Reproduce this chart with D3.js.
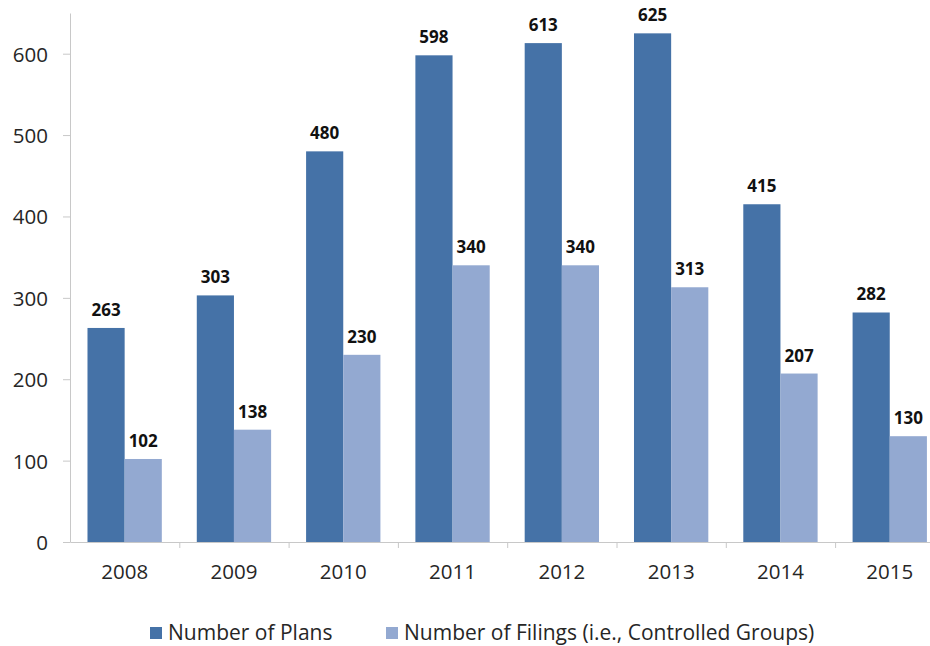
<!DOCTYPE html>
<html>
<head>
<meta charset="utf-8">
<script src="https://cdn.jsdelivr.net/npm/d3@7"></script>
<style>
  html, body { margin: 0; padding: 0; background: #fff; }
  svg { display: block; font-family: "Open Sans", "DejaVu Sans", sans-serif; }
  .axis .domain, .axis line { stroke: #c8c8c8; }
  .axis text { fill: #262626; font-size: 20.5px; font-family: "Open Sans", sans-serif; }
</style>
</head>
<body>
<svg id="chart" width="930" height="646"></svg>
<script>
// chart values
const years   = ['2008', '2009', '2010', '2011', '2012', '2013', '2014', '2015'];
const plans   = [263, 303, 480, 598, 613, 625, 415, 282];
const filings = [102, 138, 230, 340, 340, 313, 207, 130];
const seriesNames = ['Number of Plans', 'Number of Filings (i.e., Controlled Groups)'];
const yTicks  = [0, 100, 200, 300, 400, 500, 600];

const COLORS = ['#4572a7', '#93a9d1'];
const M = { left: 70, top: 13, bottom: 542 };
const STEP = 109.3;

const svg = d3.select('#chart');

const x0 = d3.scaleBand()
    .domain(years)
    .range([M.left, M.left + STEP * years.length])
    .paddingInner(0.32).paddingOuter(0.16);

const x1 = d3.scaleBand()
    .domain([0, 1])
    .range([0, x0.bandwidth()]);

const y = d3.scaleLinear().domain([0, 650]).range([M.bottom, M.top]);

// category boundaries for the x ticks
const xEdge = d3.scaleLinear().domain([0, years.length])
    .range([M.left, M.left + STEP * years.length]);

// y axis
svg.append('g').attr('class', 'axis')
    .attr('transform', `translate(${M.left},0)`)
    .call(d3.axisLeft(y).tickValues(yTicks).tickSize(7).tickPadding(15).tickSizeOuter(0))
    .call(g => g.selectAll('text').attr('dy', '0.36em'));

// x axis: ticks between categories
svg.append('g').attr('class', 'axis')
    .attr('transform', `translate(0,${M.bottom})`)
    .call(d3.axisBottom(xEdge).tickValues(d3.range(1, years.length + 1)).tickSize(6).tickFormat('').tickSizeOuter(0));

// x labels
svg.append('g').attr('class', 'axis')
    .attr('transform', `translate(0,${M.bottom})`)
    .call(d3.axisBottom(x0).tickSize(0).tickPadding(22))
    .call(g => g.select('.domain').remove());

const rows = years.map((yr, i) => ({ yr, vals: [plans[i], filings[i]] }));

const groups = svg.append('g').selectAll('g')
    .data(rows).join('g')
    .attr('transform', d => `translate(${x0(d.yr)},0)`);

groups.selectAll('rect')
    .data(d => d.vals.map((v, k) => ({ v, k })))
    .join('rect')
    .attr('x', d => x1(d.k))
    .attr('width', x1.bandwidth())
    .attr('y', d => y(d.v))
    .attr('height', d => y(0) - y(d.v))
    .attr('fill', d => COLORS[d.k]);

groups.selectAll('text')
    .data(d => d.vals.map((v, k) => ({ v, k })))
    .join('text')
    .attr('x', d => x1(d.k) + x1.bandwidth() / 2)
    .attr('y', d => y(d.v) - 12)
    .attr('text-anchor', 'middle')
    .attr('font-size', 17)
    .attr('font-weight', 'bold')
    .attr('fill', '#111')
    .text(d => d.v);

// legend
const legendX = [150, 386];
const legend = svg.append('g').selectAll('g')
    .data(seriesNames).join('g')
    .attr('transform', (d, i) => `translate(${legendX[i]},633)`);

legend.append('rect')
    .attr('x', 0).attr('y', -6).attr('width', 12).attr('height', 12)
    .attr('fill', (d, i) => COLORS[i]);

legend.append('text')
    .attr('x', 18).attr('dy', '0.35em')
    .attr('font-size', 21)
    .attr('fill', '#262626')
    .text(d => d);
</script>
</body>
</html>
